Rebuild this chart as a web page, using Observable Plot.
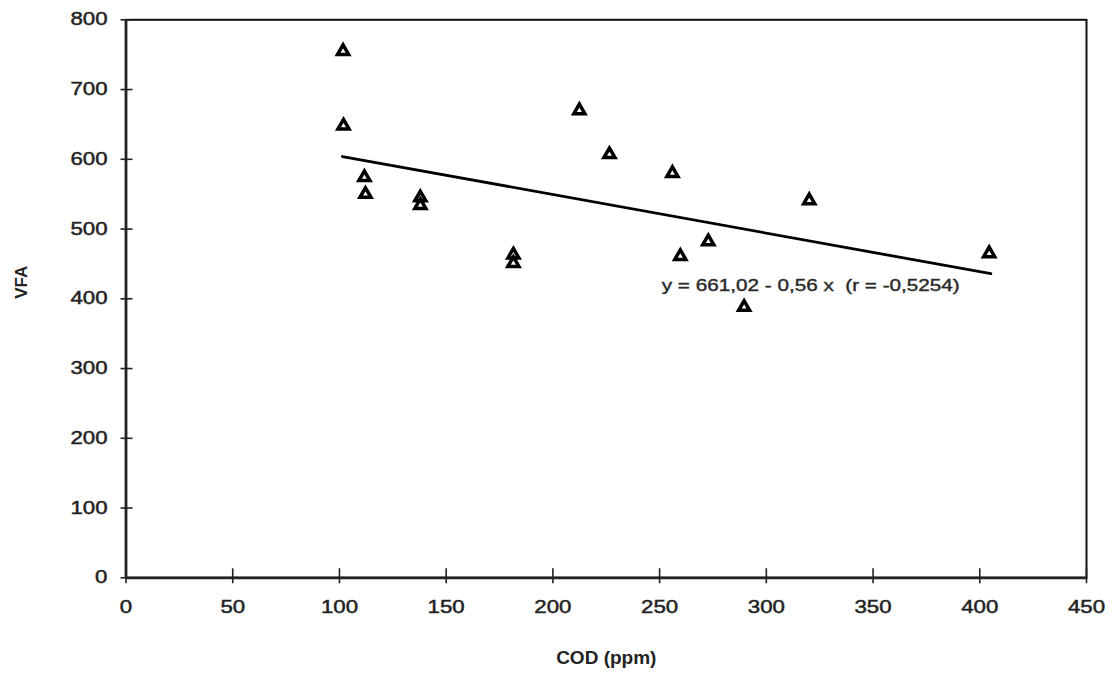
<!DOCTYPE html>
<html>
<head>
<meta charset="utf-8">
<script src="https://cdn.jsdelivr.net/npm/d3@7"></script>
<script src="https://cdn.jsdelivr.net/npm/@observablehq/plot@0.6"></script>
<style>
  html, body { margin: 0; padding: 0; background: #fff; }
  #chart svg { display: block; }
</style>
</head>
<body>
<div id="chart"></div>
<script>
// Data (COD vs VFA)
const cod = [101.7, 101.9, 111.7, 112.2, 137.9, 137.9, 181.5, 181.5, 212.4, 226.5, 256.0, 259.7, 272.8, 289.6, 320.1, 404.4];
const vfa = [755, 648, 574, 550, 545, 534, 463, 451, 670, 607, 580, 461, 482, 388, 541, 465];

// Regression line end points as drawn
const fitX = [101.4, 405.2];
const fitY = [604, 436];

const xTicks = [0, 50, 100, 150, 200, 250, 300, 350, 400, 450];
const yTicks = [0, 100, 200, 300, 400, 500, 600, 700, 800];

const equationText = "y = 661,02 - 0,56 x  (r = -0,5254)";
const equationX = [251];
const equationY = [419];

const xTitle = "COD (ppm)";
const yTitle = "VFA";

const points = cod.map((x, i) => ({x, y: vfa[i]}));
const fit = fitX.map((x, i) => ({x, y: fitY[i]}));
const equation = equationX.map((x, i) => ({x, y: equationY[i], label: equationText}));

const chart = Plot.plot({
  width: 1112,
  height: 685,
  marginLeft: 125.5,
  marginRight: 26,
  marginTop: 19.3,
  marginBottom: 107.7,
  style: {background: "#fff", fontFamily: "'Liberation Sans', Arial, sans-serif", fontSize: "17.5px", color: "#222"},
  x: {domain: [0, 450], ticks: xTicks, tickSize: 0, tickPadding: 23, label: null},
  y: {domain: [0, 800], ticks: yTicks, tickSize: 0, tickPadding: 18.5, label: null},
  marks: [
    Plot.frame({stroke: "#111", strokeWidth: 2}),
    Plot.ruleY([0], {stroke: "#222", strokeWidth: 2.8}),
    Plot.ruleX([0], {stroke: "#222", strokeWidth: 2.8}),
    Plot.ruleX(xTicks, {x: d => d, y1: 0, y2: 0, insetTop: 6, insetBottom: 9, stroke: "#222", strokeWidth: 1.6}),
    Plot.ruleY(yTicks, {y: d => d, x1: 0, x2: 0, insetLeft: -5, insetRight: -7, stroke: "#222", strokeWidth: 1.6}),
    Plot.line(fit, {x: "x", y: "y", stroke: "#000", strokeWidth: 2.8}),
    Plot.dot(points, {x: "x", y: "y", symbol: "triangle", r: 4.1, stroke: "#000", strokeWidth: 3.5, fill: "none"}),
    Plot.text(equation, {x: "x", y: "y", text: "label", textAnchor: "start", fontSize: 17, fill: "#2a2a2a"}),
    Plot.text([xTitle], {frameAnchor: "bottom", dy: 86, fontWeight: "bold", fontSize: 19, fill: "#222"}),
    Plot.text([yTitle], {frameAnchor: "left", dx: -104, rotate: -90, fontWeight: "bold", fontSize: 17, fill: "#222"})
  ]
});

document.getElementById("chart").appendChild(chart);

// Stretch the wide scanned glyphs of tick labels and the equation horizontally,
// and thicken them slightly like the scanned print
chart.querySelectorAll("text").forEach(t => {
  const s = t.textContent.trim();
  if (/^\d+$/.test(s)) {
    const w = t.getComputedTextLength();
    t.setAttribute("textLength", (w * 1.27).toFixed(1));
    t.setAttribute("lengthAdjust", "spacingAndGlyphs");
    t.setAttribute("stroke", "#222");
    t.setAttribute("stroke-width", "0.45");
    t.setAttribute("fill", "#222");
  } else if (s === equationText) {
    t.setAttribute("textLength", "298");
    t.setAttribute("lengthAdjust", "spacingAndGlyphs");
    t.setAttribute("stroke", "#2a2a2a");
    t.setAttribute("stroke-width", "0.4");
  }
});
</script>
</body>
</html>
